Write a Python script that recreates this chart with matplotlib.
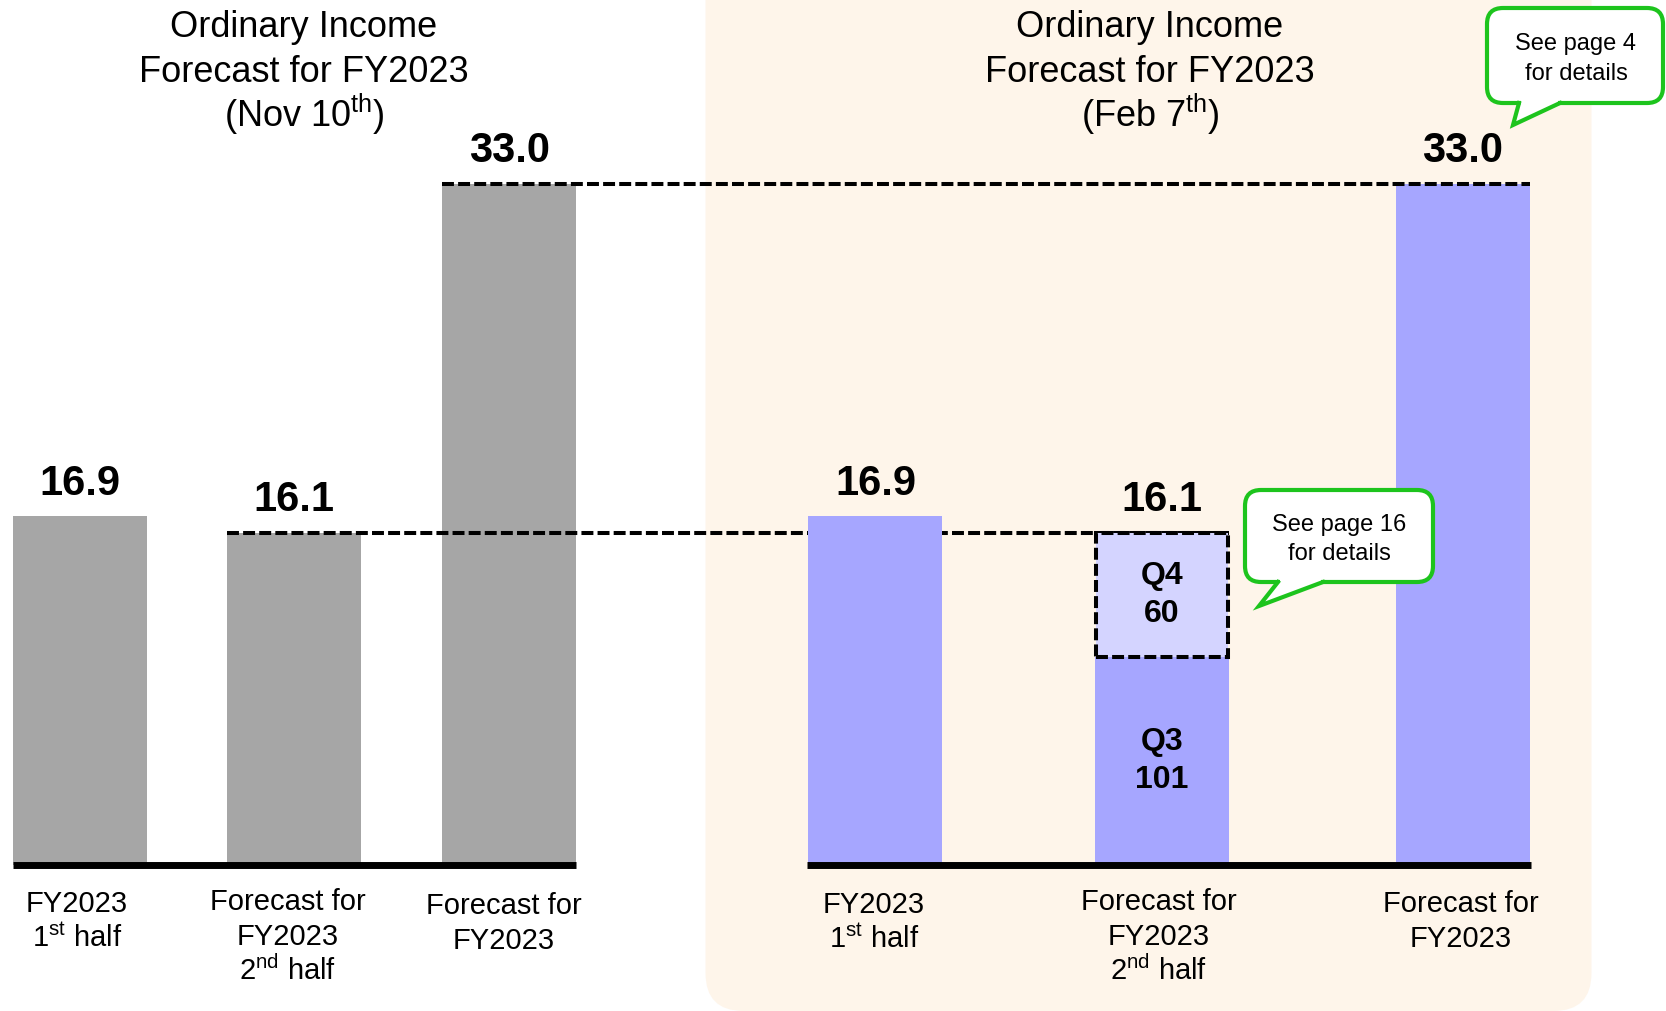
import matplotlib
matplotlib.use("Agg")
import matplotlib.pyplot as plt
from matplotlib.patches import FancyBboxPatch, Polygon
import numpy as np

# ---------------- data ----------------
left_categories = ["FY2023\n1$^{\\mathrm{st}}$ half",
                   "Forecast for\nFY2023\n2$^{\\mathrm{nd}}$ half",
                   "Forecast for\nFY2023"]
right_categories = ["FY2023\n1$^{\\mathrm{st}}$ half",
                    "Forecast for\nFY2023\n2$^{\\mathrm{nd}}$ half",
                    "Forecast for\nFY2023"]
left_values = [16.9, 16.1, 33.0]          # Nov 10th forecast (billion yen)
right_values = [16.9, 16.1, 33.0]         # Feb 7th forecast (billion yen)
q3_value = 10.1                           # shown as 101 (100 million yen)
q4_value = 6.0                            # shown as 60 (100 million yen)
q3_label = "Q3\n101"
q4_label = "Q4\n60"
left_title = "Ordinary Income\nForecast for FY2023\n(Nov 10$^{\\mathrm{th}}$)"
right_title = "Ordinary Income\nForecast for FY2023\n(Feb 7$^{\\mathrm{th}}$)"
callout_texts = ["See page 4\nfor details", "See page 16\nfor details"]

# ---------------- style ----------------
plt.rcParams['font.family'] = ['Liberation Sans', 'DejaVu Sans']
plt.rcParams['mathtext.fontset'] = 'custom'
plt.rcParams['mathtext.rm'] = 'Liberation Sans'
plt.rcParams['mathtext.it'] = 'Liberation Sans:italic'
plt.rcParams['mathtext.bf'] = 'Liberation Sans:bold'
plt.rcParams['lines.scale_dashes'] = False

GREY = "#A6A6A6"
BLUE = "#A6A6FF"
LIGHT = "#D4D4FF"
BEIGE = "#FEF5EA"
GREEN = "#1DC41D"
DASH = (0, (8.6, 3.0))

W, H = 1666, 1011
fig = plt.figure(figsize=(W / 100, H / 100), dpi=100)
fig.patch.set_facecolor("white")

# pixel axes for background panel
axbg = fig.add_axes([0, 0, 1, 1], zorder=0)
axbg.set_xlim(0, W); axbg.set_ylim(H, 0); axbg.axis("off")
panel = FancyBboxPatch((705.5, -60), 1591.5 - 705.5, 60 + H,
                       boxstyle="round,pad=0,rounding_size=38",
                       facecolor=BEIGE, edgecolor="none")
axbg.add_patch(panel)

# data axes: x in pixels, y in value units
base_px = 865.0
scale = 681.0 / 33.0
ax = fig.add_axes([0, 0, 1, 1], zorder=1)
ax.patch.set_alpha(0)
ax.set_xlim(0, W)
ax.set_ylim((base_px - H) / scale, base_px / scale)
ax.axis("off")

left_x = [79.7, 294.3, 509.5]
right_x = [875.5, 1161.7, 1463.0]
bw = 134

ax.bar(left_x, left_values, width=bw, color=GREY, zorder=2)
ax.bar(right_x[0], right_values[0], width=bw, color=BLUE, zorder=4)
ax.bar(right_x[2], right_values[2], width=bw, color=BLUE, zorder=2)
ax.bar(right_x[1], q3_value, width=bw, color=BLUE, zorder=2)
ax.bar(right_x[1], q4_value, bottom=q3_value, width=bw - 2, facecolor=LIGHT,
       edgecolor="black", linewidth=2.9, linestyle=DASH, zorder=5)

# baselines
ax.plot([left_x[0] - bw / 2, left_x[2] + bw / 2], [0, 0], color="black", lw=5,
        solid_capstyle="butt", zorder=6)
ax.plot([right_x[0] - bw / 2 - 1, right_x[2] + bw / 2 + 1], [0, 0], color="black", lw=5,
        solid_capstyle="butt", zorder=6)

# dashed reference lines
ax.plot([left_x[2] - bw / 2, right_x[2] + bw / 2], [left_values[2]] * 2, color="black",
        lw=2.9, linestyle=DASH, zorder=7)
ax.plot([left_x[1] - bw / 2, right_x[1] + bw / 2], [left_values[1]] * 2, color="black",
        lw=2.9, linestyle=DASH, zorder=3)

# value labels
for xs, vals in ((left_x, left_values), (right_x, right_values)):
    for x, v in zip(xs, vals):
        ax.annotate(f"{v:.1f}", (x, v), xytext=(0, 23.5), textcoords="offset points",
                    ha="center", va="center", fontsize=30, fontweight="bold", zorder=8)

# Q labels
ax.text(right_x[1], q3_value / 2, q3_label, ha="center", va="center", fontsize=23,
        fontweight="bold", linespacing=1.35, zorder=8)
ax.text(right_x[1], q3_value + q4_value / 2, q4_label, ha="center", va="center", fontsize=23,
        fontweight="bold", linespacing=1.35, zorder=8)

# foreground pixel axes for titles, category labels and callouts
axfg = fig.add_axes([0, 0, 1, 1], zorder=2)
axfg.patch.set_alpha(0)
axfg.set_xlim(0, W); axfg.set_ylim(H, 0); axfg.axis("off")

def lines_at(x, y0, text, step, fs):
    for i, line in enumerate(text.split("\n")):
        axfg.text(x, y0 + i * step, line, ha="center", va="baseline", fontsize=fs)

lines_at(304, 37, left_title, 45.2, 26)
lines_at(1150, 37, right_title, 45.2, 26)

cat_x_left = [77, 288, 504]
cat_y_left = [912, 910, 914]
cat_x_right = [874, 1159, 1461]
cat_y_right = [913, 910, 912]
for x, y, t in zip(cat_x_left, cat_y_left, left_categories):
    lines_at(x, y, t, 35, 21)
for x, y, t in zip(cat_x_right, cat_y_right, right_categories):
    lines_at(x, y, t, 35, 21)

def callout(x0, y0, x1, y1, base_l, base_r, tip, text, tx, ty):
    box = FancyBboxPatch((x0, y0), x1 - x0, y1 - y0,
                         boxstyle="round,pad=0,rounding_size=16",
                         facecolor="white", edgecolor=GREEN, linewidth=3)
    axfg.add_patch(box)
    cover = Polygon([(base_l + 2, y1 - 4), (base_l + 2, y1), tip, (base_r - 2, y1), (base_r - 2, y1 - 4)],
                    closed=True, facecolor="white", edgecolor="none", zorder=3)
    axfg.add_patch(cover)
    axfg.plot([base_l, tip[0], base_r], [y1, tip[1], y1], color=GREEN, lw=3,
              solid_joinstyle="miter", zorder=4)
    lines = text.split("\n")
    for i, line in enumerate(lines):
        axfg.text(tx, ty + i * 29.5, line, ha="center", va="baseline", fontsize=17, zorder=5)

callout(1487, 8, 1663, 103, 1519, 1560, (1513, 125), callout_texts[0], 1576, 50)
callout(1245, 490, 1433, 582, 1278, 1323, (1259, 606), callout_texts[1], 1339, 531)

fig.savefig("out.png", dpi=100, facecolor="white")
